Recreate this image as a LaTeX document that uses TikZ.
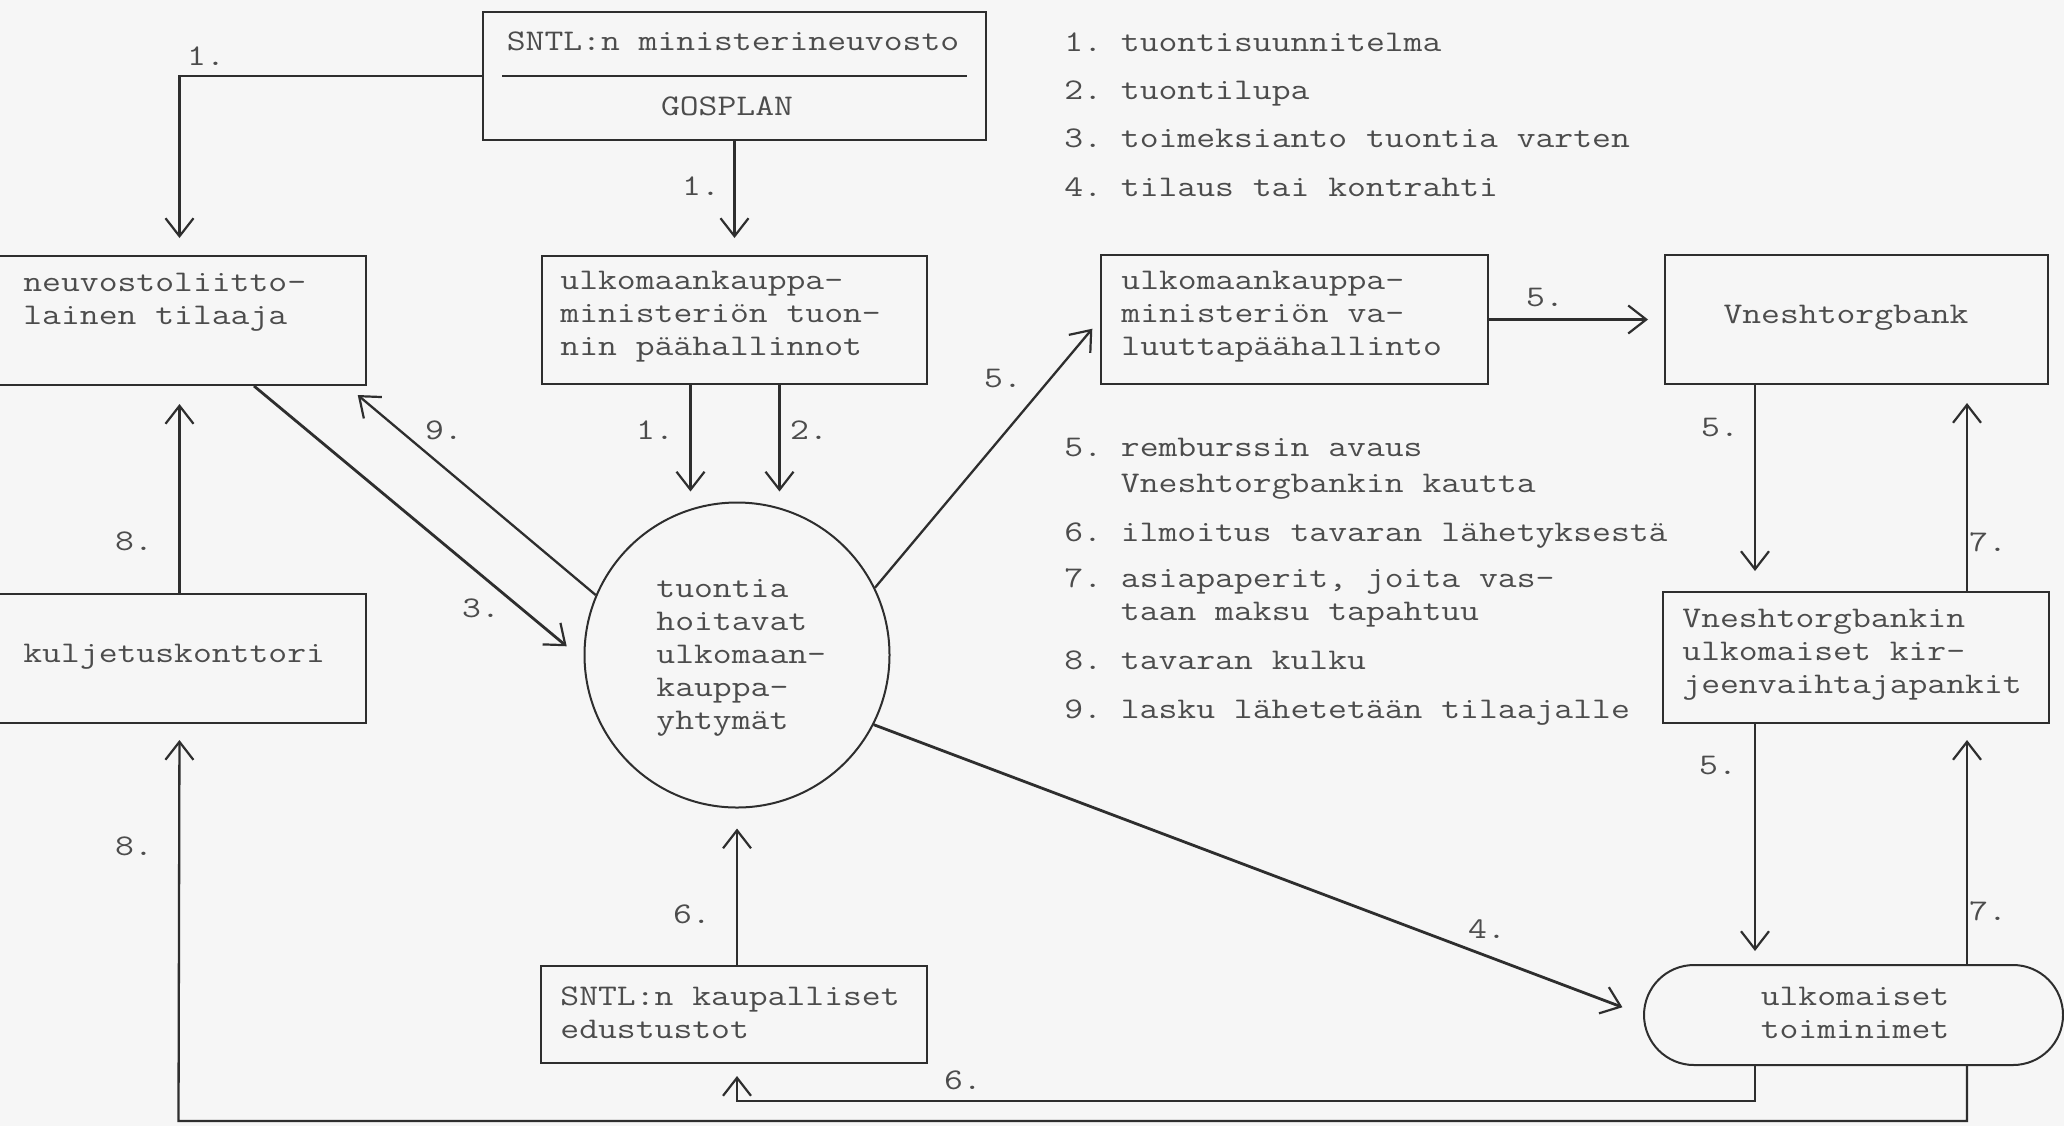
\documentclass[tikz,border=0pt]{standalone}
\usepackage{fontspec}
\setmonofont[FakeStretch=1.22]{Latin Modern Mono}
\usetikzlibrary{arrows.meta,calc}
\definecolor{ink}{gray}{0.18}
\definecolor{txtc}{gray}{0.3}
\definecolor{bg}{gray}{0.965}
\tikzset{
  box/.style={draw=ink, line width=1pt, rectangle, inner sep=0pt, anchor=north west},
  txt/.style={font=\ttfamily\fontsize{15}{16.5}\selectfont, text=txtc, inner sep=0pt, align=left},
  arr/.style={draw=ink, line width=1.15pt, -{Straight Barb[length=9pt,width=14pt,line width=1.1pt]}},
  plain/.style={draw=ink, line width=1.1pt}
}
\begin{document}
\begin{tikzpicture}[x=0.5pt,y=-0.5pt]
\fill[bg] (0,0) rectangle (2064,1126);
\useasboundingbox (0,0) rectangle (2064,1126);

% boxes
\node[box, minimum width=251.5pt, minimum height=64pt] (sntl) at (482,11) {};
\node[box, minimum width=186.5pt, minimum height=64.5pt] (neu) at (-8,255) {};
\node[box, minimum width=192.5pt, minimum height=64pt] (tuo) at (541,255) {};
\node[box, minimum width=193.5pt, minimum height=64.5pt] (valu) at (1100,254) {};
\node[box, minimum width=191.5pt, minimum height=64.5pt] (vnesh) at (1664,254) {};
\node[box, minimum width=193pt, minimum height=65.5pt] (vbk) at (1662,591) {};
\node[box, rounded corners=25pt, minimum width=209.5pt, minimum height=50pt] (toim) at (1643,964) {};
\node[box, minimum width=186.5pt, minimum height=64.5pt] (kulj) at (-8,593) {};
\node[box, minimum width=193pt, minimum height=48.5pt] (kaup) at (540,965) {};
\node[draw=ink, line width=1pt, circle, minimum size=152.5pt, inner sep=0pt] (circ) at (737,655) {};

\draw[plain, line width=1pt] ($(sntl.west)+(20,0)$) -- ($(sntl.east)+(-20,0)$);

% texts
\node[txt] (tsntl) at (733,41) {SNTL:n ministerineuvosto};
\node[txt] (tgos) at (727,106) {GOSPLAN};
\node[txt, anchor=west] (tneu) at (23,302) {neuvostoliitto-\\lainen tilaaja};
\node[txt, anchor=west] (ttuo) at (560,317) {ulkomaankauppa-\\ministeriön tuon-\\nin päähallinnot};
\node[txt, anchor=west] (tvalu) at (1121,317) {ulkomaankauppa-\\ministeriön va-\\luuttapäähallinto};
\node[txt] (tvnesh) at (1846,318) {Vneshtorgbank};
\node[txt, anchor=west] (tvbk) at (1682,655) {Vneshtorgbankin\\ulkomaiset kir-\\jeenvaihtajapankit};
\node[txt, align=center] (ttoim) at (1855,1013) {ulkomaiset\\toiminimet};
\node[txt, anchor=west] (tkulj) at (23,657) {kuljetuskonttori};
\node[txt, anchor=west] (tcirc) at (656,658) {tuontia\\hoitavat\\ulkomaan-\\kauppa-\\yhtymät};
\node[txt, anchor=west] (tkaup) at (560,1013) {SNTL:n kaupalliset\\edustustot};

% legend
\node[txt, anchor=base west] (l1) at (1064,51) {1.~tuontisuunnitelma};
\node[txt, anchor=base west] (l2) at (1064,99) {2.~tuontilupa};
\node[txt, anchor=base west] (l3) at (1064,147) {3.~toimeksianto tuontia varten};
\node[txt, anchor=base west] (l4) at (1064,196) {4.~tilaus tai kontrahti};
\node[txt, anchor=west] (l5) at (1064,469) {5.~remburssin avaus\\[1.5pt]\phantom{5.~}Vneshtorgbankin kautta};
\node[txt, anchor=base west] (l6) at (1064,541) {6.~ilmoitus tavaran lähetyksestä};
\node[txt, anchor=west] (l7) at (1064,598) {7.~asiapaperit, joita vas-\\\phantom{7.~}taan maksu tapahtuu};
\node[txt, anchor=base west] (l8) at (1064,669) {8.~tavaran kulku};
\node[txt, anchor=base west] (l9) at (1064,718) {9.~lasku lähetetään tilaajalle};

% connectors
\draw[arr, shorten >=8.5pt] (sntl.west) -| (neu.north);
\draw[arr, shorten >=8.5pt] (sntl.south) -- (tuo.north);
\draw[arr, shorten >=8pt] (valu.east) -- (vnesh.west);
\coordinate (t1) at ($(tuo.south)+(-44,0)$);
\coordinate (t2) at ($(tuo.south)+(45,0)$);
\draw[arr, shorten >=5pt] (t1) -- (t1 |- circ.north);
\draw[arr, shorten >=5pt] (t2) -- (t2 |- circ.north);
\coordinate (n3) at ($(neu.south west)+(262,0)$);
\coordinate (n9) at ($(neu.south east)+(-20,0)$);
\draw[arr, line width=1.4pt, shorten >=11pt] (n3) -- (circ.182);
\draw[arr, shorten >=7pt] (circ.157.6) -- (n9);
\draw[arr, shorten >=6pt] (circ.26) -- (valu.west);
\draw[arr, line width=1.4pt, shorten >=11pt] (circ.-27) -- (toim.west);
\draw[arr, shorten >=10pt] (circ.south |- kaup.north) -- (circ.south);
\draw[arr, shorten >=9pt] (kulj.north) -- (neu.south);
\coordinate (r5) at (1755,0);
\coordinate (r7) at (1967,0);
\draw[arr, shorten >=10pt] (r5 |- vnesh.south) -- (r5 |- vbk.north);
\draw[arr, shorten >=9pt] (r7 |- vbk.north) -- (r7 |- vnesh.south);
\draw[arr, shorten >=6.5pt] (r5 |- vbk.south) -- (r5 |- toim.north);
\draw[arr, shorten >=8pt] (r7 |- toim.north) -- (r7 |- vbk.south);
\coordinate (b6r) at (1755,1101);
\coordinate (b6l) at (737,1101);
\draw[arr, shorten >=6pt] (b6r |- toim.south) -- (b6r) -- (b6l) -- (b6l |- kaup.south);
\coordinate (b8r) at (1967,1121);
\coordinate (b8l) at (178.5,1121);
\draw[arr, shorten >=8pt] (b8r |- toim.south) -- (b8r) -- (b8l) -- (kulj.south);

% connector labels
\node[txt] (e1a) at (206,56) {1.};
\node[txt] (e1b) at (701,186) {1.};
\node[txt] (e5a) at (1545,298) {5.};
\node[txt] (e9) at (444,430) {9.};
\node[txt] (e1c) at (655,430) {1.};
\node[txt] (e2) at (809,430) {2.};
\node[txt] (e5b) at (1003,379) {5.};
\node[txt] (e3) at (481,608) {3.};
\node[txt] (e8a) at (134,541) {8.};
\node[txt] (e8b) at (134,846) {8.};
\node[txt] (e6a) at (692,914) {6.};
\node[txt] (e6b) at (963,1080) {6.};
\node[txt] (e4) at (1487,929) {4.};
\node[txt] (e5c) at (1720,428) {5.};
\node[txt] (e7a) at (1988,542) {7.};
\node[txt] (e5d) at (1718,765) {5.};
\node[txt] (e7b) at (1988,911) {7.};
\end{tikzpicture}
\end{document}
